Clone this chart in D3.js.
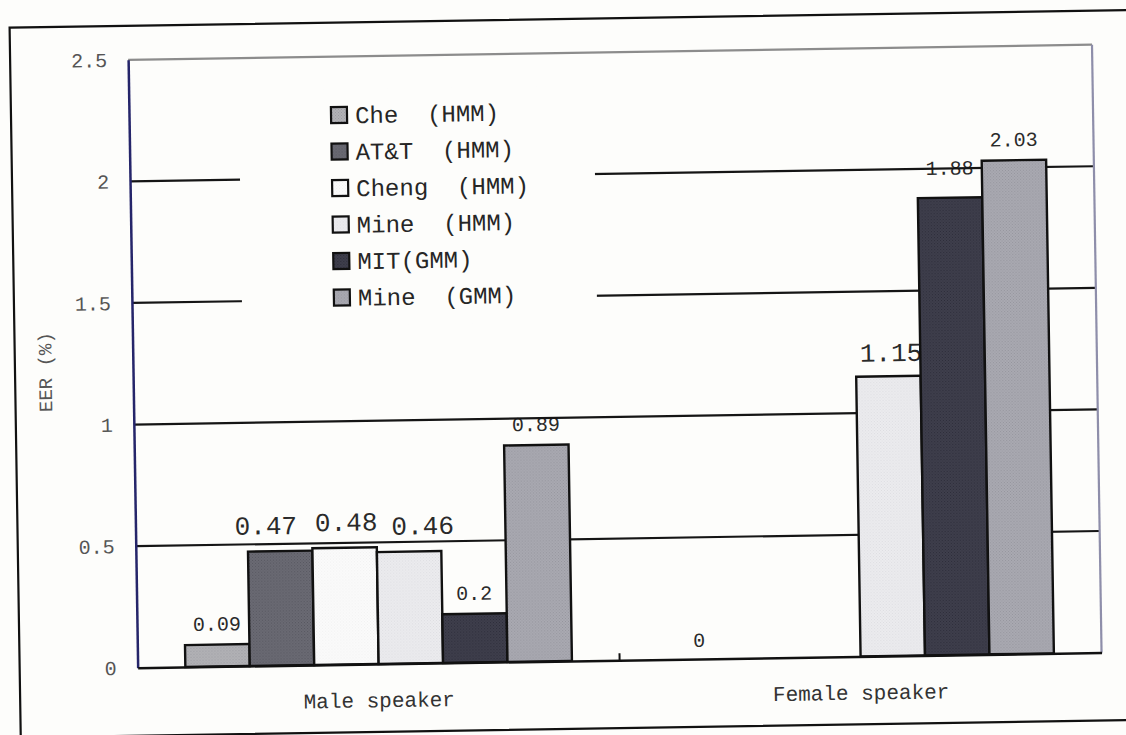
<!DOCTYPE html>
<html>
<head>
<meta charset="utf-8">
<script src="https://cdn.jsdelivr.net/npm/d3@7"></script>
<style>
  html, body { margin: 0; padding: 0; background: #fdfdfb; }
  svg { display: block; }
  text { font-family: "Liberation Mono", "Courier New", monospace; white-space: pre; }
</style>
</head>
<body>
<svg id="chart" width="1126" height="735"></svg>
<script>
// ---- data ----
const categories = ["Male speaker", "Female speaker"];
const seriesNames = ["Che  (HMM)", "AT&T  (HMM)", "Cheng  (HMM)", "Mine  (HMM)", "MIT(GMM)", "Mine  (GMM)"];
const maleValues = [0.09, 0.47, 0.48, 0.46, 0.2, 0.89];
const femaleValues = [0, null, null, 1.15, 1.88, 2.03];
const yTicks = [0, 0.5, 1, 1.5, 2, 2.5];
const yTickLabels = ["0", "0.5", "1", "1.5", "2", "2.5"];
const yTitle = "EER (%)";

// ---- styling ----
const seriesColors = ["#b3b3b7", "#6b6b74", "#fbfbfb", "#ececef", "#3f3f4d", "#aaaab2"];
const dotColors    = ["#9a9aa0", "#55555e", "#f0f0f0", "#dcdce0", "#2c2c38", "#94949c"];
const labelSizes  = [[20, 26, 26, 26, 20, 20], [20, 20, 20, 26, 20, 20]];
const labelGaps   = [[14, 17, 17, 17, 14, 14], [12, 14, 14, 15, 23, 14]];
const labelShifts = [[0, -14, 2, 14, 0, 0], [0, 0, 0, 3, 0, 0]];

const valuesByCategory = [maleValues, femaleValues];
const rows = [];
categories.forEach((c, ci) => {
  valuesByCategory[ci].forEach((v, si) => {
    if (v !== null) rows.push({ cat: c, ci, si, value: v });
  });
});

const svg = d3.select("#chart");

// fine stipple fills for the bars and legend keys
const defs = svg.append("defs");
seriesColors.forEach((c, i) => {
  const p = defs.append("pattern")
    .attr("id", "fill" + i).attr("patternUnits", "userSpaceOnUse")
    .attr("width", 3).attr("height", 3);
  p.append("rect").attr("width", 3).attr("height", 3).attr("fill", c);
  p.append("rect").attr("x", 0).attr("y", 0).attr("width", 1).attr("height", 1).attr("fill", dotColors[i]);
  p.append("rect").attr("x", 1.5).attr("y", 1.5).attr("width", 1).attr("height", 1).attr("fill", dotColors[i]);
});

// the printed page sits slightly askew
const g = svg.append("g").attr("transform", "rotate(-0.9 563 367)");

const plotL = 133, plotR = 1097, plotT = 53, plotB = 661;

const y = d3.scaleLinear().domain([0, 2.5]).range([plotB, plotT]);
const x0 = d3.scaleBand().domain(categories).range([plotL, plotR]);
const x1 = d3.scaleBand().domain(d3.range(seriesNames.length))
  .range([0, x0.bandwidth()]).paddingOuter(0.74);

// outer page frame
g.append("rect")
  .attr("x", 15).attr("y", 19).attr("width", 1140).attr("height", 710)
  .attr("fill", "none").attr("stroke", "#111").attr("stroke-width", 2.2);

// value labels
g.append("g").selectAll("text").data(rows).join("text")
  .attr("x", d => x0(d.cat) + x1(d.si) + x1.bandwidth() / 2 + labelShifts[d.ci][d.si])
  .attr("y", d => y(d.value) - labelGaps[d.ci][d.si])
  .attr("text-anchor", "middle")
  .attr("font-size", d => labelSizes[d.ci][d.si])
  .attr("fill", "#2a2a2a")
  .text(d => String(d.value));

// horizontal gridlines
g.append("g").selectAll("line").data(yTicks.filter(t => t > 0 && t < 2.5)).join("line")
  .attr("x1", plotL).attr("x2", plotR)
  .attr("y1", d => y(d)).attr("y2", d => y(d))
  .attr("stroke", "#151515").attr("stroke-width", 2.2);

// legend
const legend = g.append("g");
legend.append("rect")
  .attr("x", 243).attr("y", 86).attr("width", 355).attr("height", 236)
  .attr("fill", "#fdfdfb");
const li = legend.selectAll("g.item").data(seriesNames).join("g")
  .attr("class", "item")
  .attr("transform", (d, i) => `translate(0, ${111.5 + i * 36.5})`);
li.append("rect")
  .attr("x", 335).attr("y", -8).attr("width", 16).attr("height", 16)
  .attr("fill", (d, i) => `url(#fill${i})`)
  .attr("stroke", "#111").attr("stroke-width", 2.2);
li.append("text")
  .attr("x", 359).attr("y", 0).attr("dy", "0.35em")
  .attr("font-size", 24).attr("fill", "#262626")
  .text(d => d);

// bars
g.append("g").selectAll("rect").data(rows).join("rect")
  .attr("x", d => x0(d.cat) + x1(d.si))
  .attr("width", x1.bandwidth())
  .attr("y", d => y(d.value))
  .attr("height", d => y(0) - y(d.value))
  .attr("fill", d => `url(#fill${d.si})`)
  .attr("stroke", "#111").attr("stroke-width", 2.4);

// plot frame
g.append("line").attr("x1", plotL).attr("x2", plotR).attr("y1", y(2.5)).attr("y2", y(2.5))
  .attr("stroke", "#8c8c8c").attr("stroke-width", 2.2);
g.append("line").attr("x1", plotR).attr("x2", plotR).attr("y1", y(2.5)).attr("y2", y(0))
  .attr("stroke", "#8e8eaa").attr("stroke-width", 2.2);

// y axis
const yAxis = g.append("g").attr("transform", `translate(${plotL},0)`)
  .call(d3.axisLeft(y).tickValues(yTicks).tickFormat((d, i) => yTickLabels[i])
    .tickSize(0).tickPadding(21));
yAxis.select(".domain").attr("stroke", "#25256a").attr("stroke-width", 2.5);
yAxis.selectAll("text")
  .attr("font-family", "Liberation Mono, monospace")
  .attr("font-size", 20).attr("fill", "#555");

// x axis
const xAxis = g.append("g").attr("transform", `translate(0,${plotB})`)
  .call(d3.axisBottom(x0).tickSize(0));
xAxis.select(".domain").attr("stroke", "#111").attr("stroke-width", 2.5);
xAxis.selectAll("text")
  .attr("font-family", "Liberation Mono, monospace")
  .attr("font-size", 21).attr("fill", "#333")
  .attr("y", 36).attr("dy", "0.35em");
// category divider ticks
g.append("g").selectAll("line").data(categories.slice(1)).join("line")
  .attr("x1", d => x0(d)).attr("x2", d => x0(d))
  .attr("y1", plotB).attr("y2", plotB - 7)
  .attr("stroke", "#111").attr("stroke-width", 2);

// y axis title
g.append("text")
  .attr("transform", "translate(45,364) rotate(-90)")
  .attr("text-anchor", "middle").attr("dy", "0.35em")
  .attr("font-size", 19).attr("fill", "#555")
  .text(yTitle);
</script>
</body>
</html>
